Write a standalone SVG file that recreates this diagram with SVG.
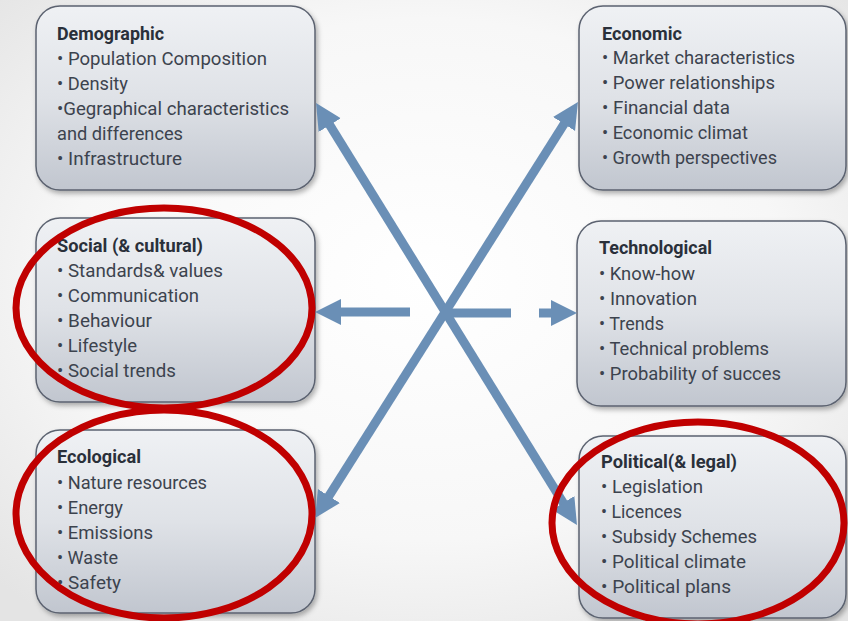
<svg xmlns="http://www.w3.org/2000/svg" width="848" height="621" viewBox="0 0 848 621">
<defs>
<radialGradient id="bg" cx="0.5" cy="0.45" r="0.7">
<stop offset="0" stop-color="#ffffff"/>
<stop offset="0.6" stop-color="#f7f7f7"/>
<stop offset="1" stop-color="#e4e4e4"/>
</radialGradient>
<linearGradient id="boxg" x1="0" y1="0" x2="0" y2="1">
<stop offset="0" stop-color="#eff1f4"/>
<stop offset="0.5" stop-color="#dfe2e7"/>
<stop offset="1" stop-color="#c1c6cf"/>
</linearGradient>
<filter id="sh" x="-10%" y="-10%" width="125%" height="125%">
<feDropShadow dx="2" dy="3" stdDeviation="2.5" flood-color="#000" flood-opacity="0.3"/>
</filter>
<marker id="ah" markerUnits="userSpaceOnUse" markerWidth="28" markerHeight="28" refX="4" refY="13" orient="auto-start-reverse" viewBox="0 0 28 26">
<path d="M0,0 L26,13 L0,26 z" fill="#6a8fb6"/>
</marker>
<style>
.box{fill:url(#boxg);stroke:#5b6270;stroke-width:1.5;filter:url(#sh)}
.t{font-family:Roboto,"Liberation Sans",sans-serif;font-size:19px;fill:#2a303a;font-weight:700}
.l{font-family:Roboto,"Liberation Sans",sans-serif;font-size:19px;fill:#3c434e}
.c{stroke:#6a8fb6;stroke-width:9;fill:none}
.r{fill:none;stroke:#c00000;stroke-width:7}
</style>
</defs>
<rect x="0" y="0" width="848" height="621" fill="url(#bg)"/>

<g id="demographic">
<rect class="box" x="36" y="6" width="279" height="184" rx="24"/>
<text class="t" x="57" y="40" textLength="107" lengthAdjust="spacingAndGlyphs">Demographic</text>
<text class="l" x="57" y="65" textLength="210" lengthAdjust="spacingAndGlyphs">• Population Composition</text>
<text class="l" x="57" y="90" textLength="71" lengthAdjust="spacingAndGlyphs">• Density</text>
<text class="l" x="57" y="115" textLength="232" lengthAdjust="spacingAndGlyphs">•Gegraphical characteristics</text>
<text class="l" x="57" y="140" textLength="126" lengthAdjust="spacingAndGlyphs">and differences</text>
<text class="l" x="57" y="165" textLength="125" lengthAdjust="spacingAndGlyphs">• Infrastructure</text>
</g>

<g id="economic">
<rect class="box" x="579" y="6" width="267" height="184" rx="24"/>
<text class="t" x="602" y="40" textLength="80" lengthAdjust="spacingAndGlyphs">Economic</text>
<text class="l" x="602" y="64" textLength="193" lengthAdjust="spacingAndGlyphs">• Market characteristics</text>
<text class="l" x="602" y="89" textLength="173" lengthAdjust="spacingAndGlyphs">• Power relationships</text>
<text class="l" x="602" y="114" textLength="128" lengthAdjust="spacingAndGlyphs">• Financial data</text>
<text class="l" x="602" y="139" textLength="146" lengthAdjust="spacingAndGlyphs">• Economic climat</text>
<text class="l" x="602" y="164" textLength="175" lengthAdjust="spacingAndGlyphs">• Growth perspectives</text>
</g>

<g id="social">
<rect class="box" x="36" y="218" width="279" height="184" rx="24"/>
<text class="t" x="57" y="252" textLength="146" lengthAdjust="spacingAndGlyphs">Social (&amp; cultural)</text>
<text class="l" x="57" y="277" textLength="166" lengthAdjust="spacingAndGlyphs">• Standards&amp; values</text>
<text class="l" x="57" y="302" textLength="142" lengthAdjust="spacingAndGlyphs">• Communication</text>
<text class="l" x="57" y="327" textLength="95" lengthAdjust="spacingAndGlyphs">• Behaviour</text>
<text class="l" x="57" y="352" textLength="80" lengthAdjust="spacingAndGlyphs">• Lifestyle</text>
<text class="l" x="57" y="377" textLength="119" lengthAdjust="spacingAndGlyphs">• Social trends</text>
</g>

<g id="technological">
<rect class="box" x="577" y="221" width="269" height="185" rx="24"/>
<text class="t" x="599" y="254" textLength="113" lengthAdjust="spacingAndGlyphs">Technological</text>
<text class="l" x="599" y="280" textLength="96" lengthAdjust="spacingAndGlyphs">• Know-how</text>
<text class="l" x="599" y="305" textLength="98" lengthAdjust="spacingAndGlyphs">• Innovation</text>
<text class="l" x="599" y="330" textLength="65" lengthAdjust="spacingAndGlyphs">• Trends</text>
<text class="l" x="599" y="355" textLength="170" lengthAdjust="spacingAndGlyphs">• Technical problems</text>
<text class="l" x="599" y="380" textLength="182" lengthAdjust="spacingAndGlyphs">• Probability of succes</text>
</g>

<g id="ecological">
<rect class="box" x="36" y="430" width="279" height="183" rx="24"/>
<text class="t" x="57" y="463" textLength="84" lengthAdjust="spacingAndGlyphs">Ecological</text>
<text class="l" x="57" y="489" textLength="150" lengthAdjust="spacingAndGlyphs">• Nature resources</text>
<text class="l" x="57" y="514" textLength="66" lengthAdjust="spacingAndGlyphs">• Energy</text>
<text class="l" x="57" y="539" textLength="96" lengthAdjust="spacingAndGlyphs">• Emissions</text>
<text class="l" x="57" y="564" textLength="61" lengthAdjust="spacingAndGlyphs">• Waste</text>
<text class="l" x="57" y="589" textLength="64" lengthAdjust="spacingAndGlyphs">• Safety</text>
</g>

<g id="political">
<rect class="box" x="579" y="436" width="267" height="182" rx="24"/>
<text class="t" x="601" y="468" textLength="136" lengthAdjust="spacingAndGlyphs">Political(&amp; legal)</text>
<text class="l" x="601" y="493" textLength="102" lengthAdjust="spacingAndGlyphs">• Legislation</text>
<text class="l" x="601" y="518" textLength="81" lengthAdjust="spacingAndGlyphs">• Licences</text>
<text class="l" x="601" y="543" textLength="156" lengthAdjust="spacingAndGlyphs">• Subsidy Schemes</text>
<text class="l" x="601" y="568" textLength="145" lengthAdjust="spacingAndGlyphs">• Political climate</text>
<text class="l" x="601" y="593" textLength="130" lengthAdjust="spacingAndGlyphs">• Political plans</text>
</g>

<g id="connectors">
<line class="c" x1="327.6" y1="121.7" x2="565.4" y2="506.3" marker-start="url(#ah)" marker-end="url(#ah)"/>
<line class="c" x1="566.2" y1="120.6" x2="326.8" y2="499.4" marker-start="url(#ah)" marker-end="url(#ah)"/>
<line class="c" x1="410" y1="312" x2="337" y2="312" marker-end="url(#ah)"/>
<line class="c" x1="446" y1="313" x2="511" y2="313"/>
<line class="c" x1="539" y1="313" x2="555" y2="313" marker-end="url(#ah)"/>
</g>

<g id="highlights">
<ellipse class="r" cx="164" cy="308" rx="148" ry="100"/>
<ellipse class="r" cx="164" cy="514" rx="148" ry="104"/>
<ellipse class="r" cx="698" cy="523" rx="146" ry="101"/>
</g>
</svg>
